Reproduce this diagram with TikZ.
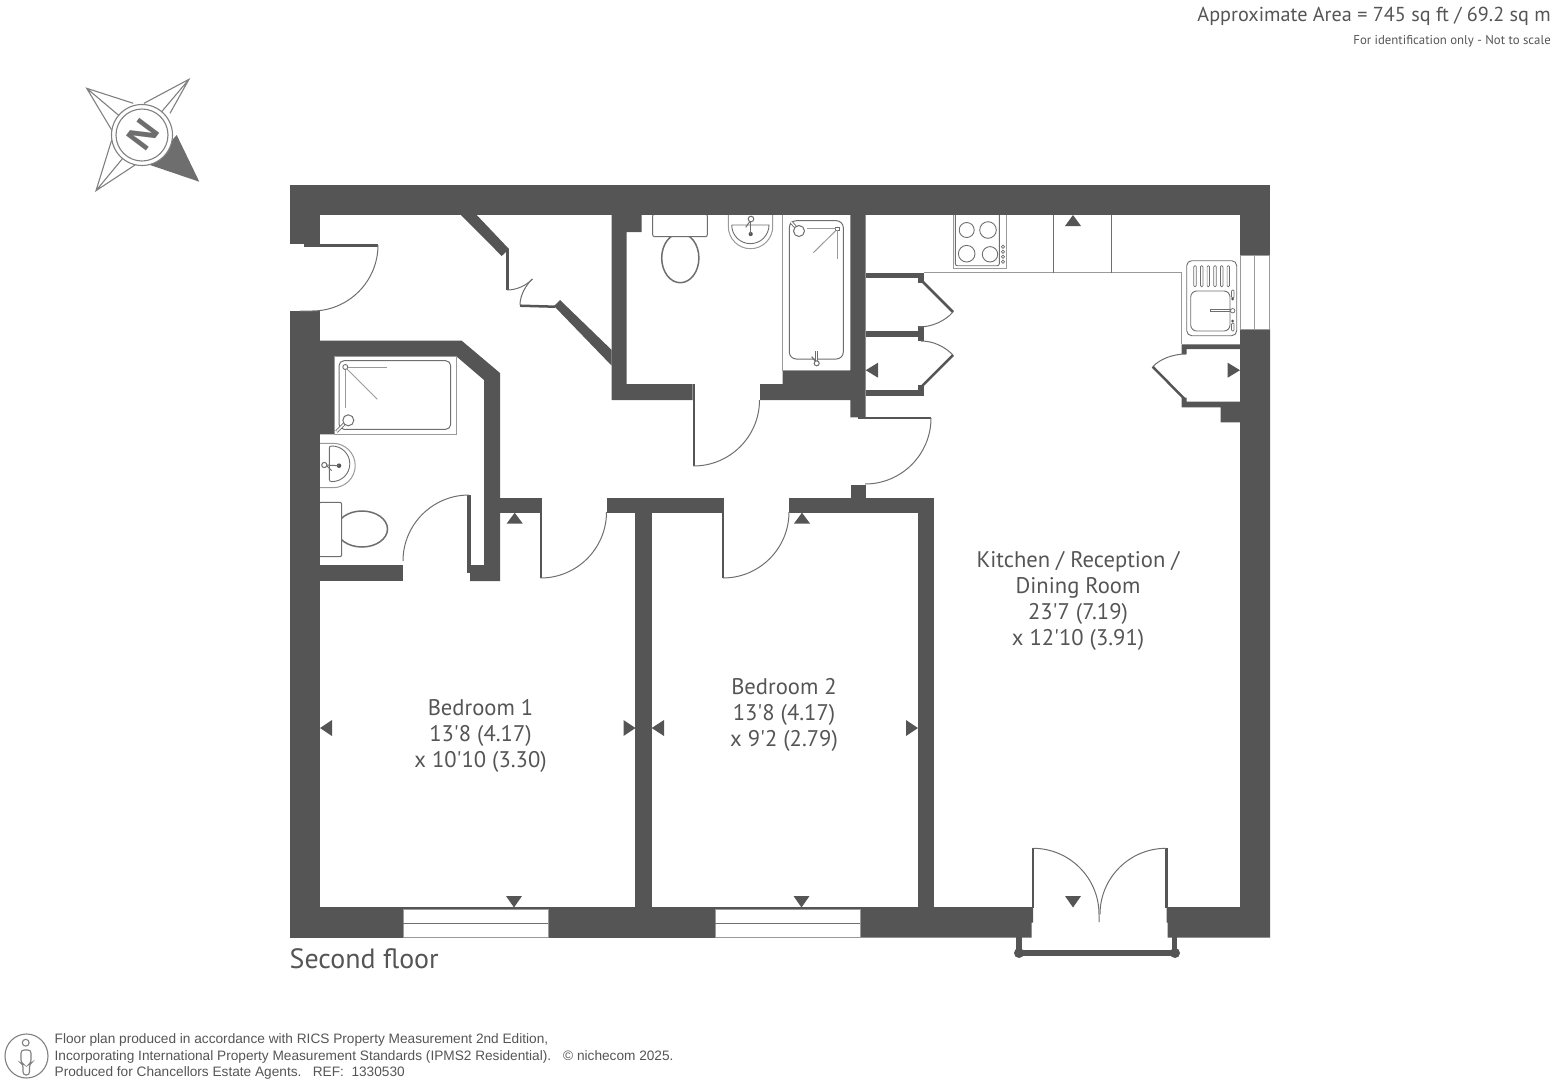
\documentclass[tikz,border=0pt]{standalone}
\usepackage{fontspec}
\setmainfont[Ligatures=TeXOff]{PT Sans}
\newfontfamily\arialf{Liberation Sans}
\newfontfamily\nfont{Open Sans}
\definecolor{wallc}{HTML}{555555}
\definecolor{fixc}{HTML}{6E6E6E}
\definecolor{pale}{HTML}{9A9A9A}
\definecolor{compassl}{HTML}{808080}
\tikzset{
  wall/.style={fill=wallc,draw=none},
  thinl/.style={draw=fixc,line width=0.9pt},
  fixt/.style={draw=fixc,line width=1pt},
  palel/.style={draw=pale,line width=1pt},
  swing/.style={draw=fixc,line width=1pt},
  smalll/.style={draw=fixc,line width=.7pt},
  compline/.style={draw=compassl,line width=1.1pt},
  room/.style={text=wallc,align=center,font=\fontsize{22.6}{25.8}\selectfont,inner sep=0pt},
  foot/.style={text=wallc,anchor=base west,inner sep=0pt,font=\arialf\fontsize{13.66}{15}\selectfont},
}
\begin{document}
\begin{tikzpicture}[x=1pt,y=-1pt]
\useasboundingbox (0,0) rectangle (1553,1085);
% ---- walls
\fill[wall] (289.5,184.5) rectangle (1270,215);
\fill[wall] (289.5,215) rectangle (320,244);
\fill[wall] (304,244) rectangle (378,246.5);
\fill[wall] (289.5,311) rectangle (320,937);
\fill[wall] (320,340.7) -- (461.7,340.7) -- (500,373) -- (500,581) -- (470,581) -- (470,565) -- (484,565) -- (484,380) -- (456,356) -- (334.3,356) -- (334.3,434.3) -- (320,434.3) -- cycle;
\fill[wall] (320,565) rectangle (403,581);
\fill[wall] (467,495) rectangle (471,573);
\fill[wall] (500,497.7) rectangle (540,512.7);
\fill[wall] (539.5,497.7) rectangle (541.5,578);
\fill[wall] (606.5,497.7) rectangle (721.7,512.7);
\fill[wall] (635,512) rectangle (651.7,937);
\fill[wall] (721.7,497.7) rectangle (724,578);
\fill[wall] (789,497.7) rectangle (934,512.7);
\fill[wall] (918,497.7) rectangle (934,937);
\fill[wall] (850.7,485) rectangle (865.7,498);
% bottom wall
\fill[wall] (289.5,907) rectangle (403,937.5);
\fill[wall] (403,907) rectangle (548,909.3);
\fill[wall] (548,907) rectangle (715,937.5);
\fill[wall] (715,907) rectangle (860,909.3);
\fill[wall] (860,907) -- (1033,907) -- (1033,922.7) -- (1031.7,922.7) -- (1031.7,937.5) -- (860,937.5) -- cycle;
\fill[wall] (1166.7,907) -- (1240,907) -- (1240,422.3) -- (1220.7,422.3) -- (1220.7,407.3) -- (1181.7,407.3) -- (1181.7,397.7) -- (1186.7,397.7) -- (1186.7,401.7) -- (1240,401.7) -- (1240,349) -- (1186.7,349) -- (1186.7,354) -- (1181.7,354) -- (1181.7,344.3) -- (1240,344.3) -- (1240,329) -- (1270,329) -- (1270,937.5) -- (1167.7,937.5) -- (1167.7,922.7) -- (1166.7,922.7) -- cycle;
\fill[wall] (1240,215) rectangle (1270,255.7);
% hall cupboard diagonals
\fill[wall] (461,215) -- (476.7,215) -- (509,249) -- (501.7,256) -- cycle;
\fill[wall] (560,300) -- (611.7,350) -- (611.7,365.7) -- (554,306) -- cycle;
% bathroom
\fill[wall] (611.7,215) -- (641.7,215) -- (641.7,232) -- (626.7,232) -- (626.7,384) -- (692.7,384) -- (692.7,400) -- (611.7,400) -- cycle;
\fill[wall] (760,384) -- (782.7,384) -- (782.7,370) -- (850.3,370) -- (850.3,215) -- (865.7,215) -- (865.7,417.3) -- (850.3,417.3) -- (850.3,400) -- (760,400) -- cycle;
\fill[wall] (692.7,384) rectangle (694.5,466);
\fill[wall] (858,416.5) rectangle (931,419);
% closets
\fill[wall] (865.7,272.7) rectangle (924,278.3);
\fill[wall] (918,278) rectangle (924,283.3);
\fill[wall] (865.7,330.7) rectangle (924,336.7);
\fill[wall] (918,326) rectangle (924,341);
\fill[wall] (865.7,390) rectangle (924,395.5);
\fill[wall] (918,385) rectangle (924,395);
% ---- door leaves
\draw[wallc,line width=2.5pt] (922,281) -- (953,312);
\draw[wallc,line width=2.5pt] (953,355) -- (922,386);
\draw[wallc,line width=2.5pt] (1152.7,366.7) -- (1184,398.5);
\draw[wallc,line width=2.5pt] (507.7,249) -- (507.7,290);
\draw[wallc,line width=2.5pt] (520,305.7) -- (555,306.7);
\draw[wallc,line width=2.5pt] (1033,848.3) -- (1033,908);
\draw[wallc,line width=2.5pt] (1166.3,848.3) -- (1166.3,908);
% ---- swings
\draw[swing] (378,245) arc[start angle=0,end angle=-90,radius=66pt] -- (300,311);
\draw[swing] (469,495) arc[start angle=90,end angle=180,radius=66pt];
\draw[swing] (540.5,578) arc[start angle=-90,end angle=0,radius=66pt];
\draw[swing] (723,578) arc[start angle=-90,end angle=0,radius=66pt];
\draw[swing] (693.5,466) arc[start angle=-90,end angle=0,radius=66pt];
\draw[swing] (931,418) arc[start angle=0,end angle=-90,radius=66pt];
\draw[swing] (507,290) .. controls (516,290) and (526,286) .. (532.3,279);
\draw[swing] (520,305) .. controls (520,295) and (526,285) .. (532.3,279);
\draw[swing] (953,312) .. controls (945,321) and (932,327) .. (919,327);
\draw[swing] (953,355) .. controls (945,347) and (934,341) .. (921,341);
\draw[swing] (1152.7,366.7) .. controls (1160,359) and (1173,354) .. (1186,354);
\draw[swing] (1033,848.3) arc[start angle=90,end angle=0,radius=66pt] -- (1099,922);
\draw[swing] (1166,848.3) arc[start angle=90,end angle=180,radius=66pt];
% ---- windows
\draw[palel] (403,909.3) rectangle (548,937);
\draw[thinl] (403,923) -- (548,923);
\draw[palel] (715,909.3) rectangle (860,937);
\draw[thinl] (715,923) -- (860,923);
\draw[palel] (1240,255.7) rectangle (1269.5,329);
\draw[palel] (1254.3,255.7) -- (1254.3,329);
% ---- balcony
\fill[wall] (1016,937) rectangle (1021.7,952);
\fill[wall] (1171.7,937) rectangle (1177,952);
\fill[wall] (1019,950) rectangle (1175,955.7);
\fill[wall] (1019,953) circle[radius=5pt];
\fill[wall] (1175,953) circle[radius=5pt];
% ---- kitchen units
\draw[palel] (924,272.7) -- (1181.7,272.7) -- (1181.7,344.3);
\draw[thinl] (1053,215) -- (1053,272.7);
\draw[thinl] (1111.7,215) -- (1111.7,272.7);
% hob
\draw[palel] (953.3,215) -- (953.3,268.3) -- (1006.7,268.3) -- (1006.7,215);
\draw[thinl,rounded corners=2pt] (955.3,215) -- (955.3,265.7) -- (999.3,265.7) -- (999.3,215);
\draw[thinl] (966.7,230) circle[radius=7.5pt];
\draw[thinl] (988,230) circle[radius=8.3pt];
\draw[thinl] (966.7,253.7) circle[radius=8.3pt];
\draw[thinl] (990,254.3) circle[radius=7.7pt];
\foreach \yy in {246.7,251.7,256.7,261.7} \draw[smalll] (1003,\yy) circle[radius=1.6pt];
% sink
\draw[thinl,rounded corners=5pt] (1186.7,260.7) rectangle (1236.7,335.7);
\foreach \xx in {1195,1201.7,1208.3,1215,1221.7,1228.3} \draw[smalll,rounded corners=1pt] (\xx-1.2,265.7) rectangle (\xx+1.2,286.7);
\draw[thinl,rounded corners=6pt] (1190.7,291) rectangle (1230,331);
\draw[smalll] (1210,309.7) rectangle (1231,311.7);
\draw[smalll,fill=white] (1232.7,310.7) circle[radius=2.2pt];
\draw[smalll,rounded corners=1pt] (1231.5,290) rectangle (1234,298);
\fill[wallc] (1232.7,299) circle[radius=1.5pt];
\draw[smalll,rounded corners=1pt] (1231.5,323) rectangle (1234,331);
\fill[wallc] (1232.7,321) circle[radius=1.5pt];
% ---- en-suite shower
\draw[palel] (334.3,356) rectangle (456,434.3);
\draw[fixt,rounded corners=5pt] (339,360.7) rectangle (450.7,429.3);
\draw[thinl] (345.3,367) circle[radius=2.5pt];
\draw[palel] (347.8,367) -- (386.7,367);
\draw[palel] (347,369) -- (377.3,399.3);
\draw[palel] (345.3,369.5) -- (345.3,408.3);
\draw[fixt,line width=3.2pt] (348,420) -- (336.5,431.5);
\draw[white,line width=1.4pt] (348,420) -- (336.5,431.5);
\draw[fixt,fill=white] (348.3,420.3) circle[radius=5.5pt];
% en-suite basin
\draw[palel,fill=white] (320,443.3) -- (333,443.3) arc[start angle=90,end angle=-90,radius=22.2pt] -- (320,487.7);
\draw[thinl] (329.3,448) .. controls (329.3,446.5) and (330,446) .. (332,446) arc[start angle=90,end angle=-90,radius=17.8pt] .. controls (330,481.6) and (329.3,481) .. (329.3,479) -- cycle;
\fill[wallc] (339,465.7) circle[radius=2.3pt];
\draw[fixt] (339,465.7) -- (325,465);
\draw[fixt] (327,466) -- (331.7,470.7);
\draw[fixt,fill=white] (324.3,465) circle[radius=2.6pt];
% en-suite wc
\draw[fixt,line width=1.5pt] (362,529) ellipse[x radius=25.5pt,y radius=18pt];
\draw[fixt,fill=white,rounded corners=2pt] (319,502.3) rectangle (341.7,556.7);
\fill[wall] (289.5,500) rectangle (320,560);
% ---- bathroom fixtures
\draw[fixt,line width=1.5pt] (680.3,258) ellipse[x radius=18.6pt,y radius=24.7pt];
\draw[fixt,fill=white,rounded corners=2pt] (652.7,214) rectangle (707.3,236.7);
\fill[wall] (640,205) rectangle (720,215);
\draw[palel] (728.3,215) -- (728.3,226.5) arc[start angle=180,end angle=360,radius=22.2pt] -- (772.7,215);
\draw[thinl] (731.7,225) -- (769,225) arc[start angle=0,end angle=-180,radius=18.65pt];
\fill[wallc] (750.7,234) circle[radius=2.1pt];
\draw[fixt] (750.7,234) -- (750.7,220);
\draw[fixt] (749.5,222) -- (745.7,227.3);
\draw[fixt,fill=white] (751,219) circle[radius=2.8pt];
\draw[palel] (782.7,215) -- (782.7,370) -- (850,370);
\draw[fixt,rounded corners=7pt] (789.3,220.7) rectangle (843.3,359);
\draw[fixt,line width=3.2pt] (799,231) -- (791,222);
\draw[white,line width=1.4pt] (799,231) -- (791,222);
\draw[fixt,fill=white] (799,231) circle[radius=5.5pt];
\draw[thinl,fill=white] (835.7,227) rectangle (839,230.4);
\draw[palel] (835.7,228.7) -- (807.3,228.7);
\draw[palel] (836,230.4) -- (813.3,252.7);
\draw[palel] (837.3,230.4) -- (837.3,259.3);
\draw[fixt,line width=2.6pt] (816.7,363) -- (816.7,351);
\draw[white,line width=1pt] (816.7,363) -- (816.7,351);
\draw[fixt,line width=1.2pt] (811.7,356.7) -- (816,362);
\draw[fixt,fill=white] (816.7,363.3) circle[radius=2.5pt];
% ---- dimension triangles
\fill[wallc] (320,728) -- (332,720) -- (332,736) -- cycle;
\fill[wallc] (635.5,728) -- (623.5,720) -- (623.5,736) -- cycle;
\fill[wallc] (651.7,728) -- (664,720) -- (664,736) -- cycle;
\fill[wallc] (918,728) -- (906,720) -- (906,736) -- cycle;
\fill[wallc] (514,907.5) -- (506,896) -- (522,896) -- cycle;
\fill[wallc] (801.5,907.5) -- (793.5,896) -- (809.5,896) -- cycle;
\fill[wallc] (1073,907.5) -- (1065,896) -- (1081,896) -- cycle;
\fill[wallc] (514.7,512.7) -- (506.7,523.5) -- (522.7,523.5) -- cycle;
\fill[wallc] (802,512.7) -- (794,523.5) -- (810,523.5) -- cycle;
\fill[wallc] (1073,215) -- (1065,226) -- (1081,226) -- cycle;
\fill[wallc] (865.7,370.2) -- (878,362.7) -- (878,377.7) -- cycle;
\fill[wallc] (1240,370.2) -- (1227.7,362.7) -- (1227.7,377.7) -- cycle;
% ---- compass
\fill[fixc] (176.7,135) -- (199.3,181.7) -- (150,165) -- cycle;
\draw[compline,line join=miter]
  (133.3,103.3) -- (86.7,88.3) -- (111.7,130)
  (111.7,140) -- (96,190.7) -- (135,165)
  (144,103.3) -- (189,79.3) -- (170,113.3)
  (86.7,88.3) -- (142,135) (189,79.3) -- (142,135) (96,190.7) -- (142,135);
\fill[white] (142,135) circle[radius=30.5pt];
\draw[compline] (142,135) circle[radius=30.5pt];
\draw[compline] (142,135) circle[radius=26pt];
\node[text=fixc,rotate=53,inner sep=0pt,font=\nfont\bfseries\fontsize{35}{35}\selectfont] (north) at (143.5,135) {N};
% ---- texts
\node[text=wallc,anchor=base east,inner sep=0pt,font=\fontsize{20.2}{22}\selectfont] (area) at (1551,21) {Approximate Area = 745 sq ft / 69.2 sq m};
\node[text=wallc,anchor=base east,inner sep=0pt,font=\fontsize{12.8}{15}\selectfont] (ident) at (1551,44) {For identification only - Not to scale};
\node[room] (kitchen) at (1078,601) {Kitchen / Reception /\\Dining Room\\23'7 (7.19)\\x 12'10 (3.91)};
\node[room] (bed1) at (480.5,736) {Bedroom 1\\13'8 (4.17)\\x 10'10 (3.30)};
\node[room] (bed2) at (784,715) {Bedroom 2\\13'8 (4.17)\\x 9'2 (2.79)};
\node[text=wallc,anchor=base west,inner sep=0pt,font=\fontsize{27.9}{30}\selectfont] (floorname) at (289.5,968) {Second floor};
\node[foot] (f1) at (54.5,1043.7) {Floor plan produced in accordance with RICS Property Measurement 2nd Edition,};
\node[foot] (f2) at (54.5,1060.2) {Incorporating International Property Measurement Standards (IPMS2 Residential).};
\node[foot] (f3) at (54.5,1076.7) {Produced for Chancellors Estate Agents.\ \ \ REF:\ \ 1330530};
\node[foot] (f4) at (563,1060.2) {© nichecom 2025.};
% person icon
\draw[compline] (26.5,1056) ellipse[x radius=21.5pt,y radius=22pt];
\draw[compline] (25.7,1042.7) circle[radius=3.4pt];
\draw[compline,rounded corners=3pt] (21,1050) -- (31,1050) -- (31,1063) -- (29.5,1064) -- (29.5,1075) -- (23,1075) -- (23,1064) -- (21,1063) -- cycle;
\end{tikzpicture}
\end{document}
